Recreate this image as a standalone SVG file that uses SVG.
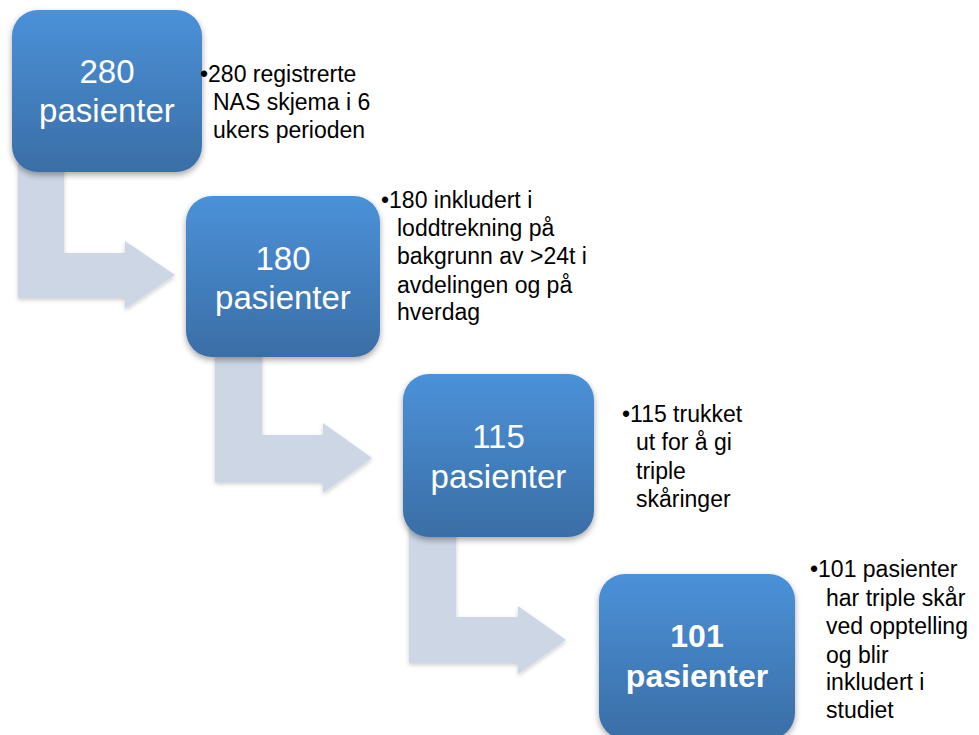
<svg xmlns="http://www.w3.org/2000/svg" width="979" height="735" viewBox="0 0 979 735">
<style>
.box{fill:url(#bg);filter:url(#sh)}
.arr{fill:#CDD6E5;filter:url(#ash)}
.bt{font-family:"Liberation Sans",Arial,sans-serif;font-size:33px;fill:#fff;text-anchor:middle}
.bb{font-weight:bold;font-size:32px}
.st{font-family:"Liberation Sans",Arial,sans-serif;font-size:23px;fill:#000}
</style>
<defs>
<linearGradient id="bg" x1="0" y1="0" x2="0" y2="1">
<stop offset="0" stop-color="#4B91D8"/>
<stop offset="1" stop-color="#3A6EA6"/>
</linearGradient>
<filter id="sh" x="-10%" y="-10%" width="120%" height="125%">
<feDropShadow dx="0" dy="3" stdDeviation="3" flood-color="#000" flood-opacity="0.35"/>
</filter>
<filter id="ash" x="-10%" y="-10%" width="120%" height="125%">
<feDropShadow dx="0" dy="2" stdDeviation="2" flood-color="#000" flood-opacity="0.2"/>
</filter>
</defs>
<g id="connectors">
<path class="arr" d="M18,150 L64,150 L64,253 L125,253 L125,241 L175,275 L125,309 L125,298 L18,298 Z"/>
<path class="arr" d="M215,340 L262,340 L262,435 L323,435 L323,423 L372,458 L323,493 L323,482 L215,482 Z"/>
<path class="arr" d="M409,520 L456,520 L456,617 L518,617 L518,606 L566,640 L518,674 L518,663 L409,663 Z"/>
</g>
<g id="node1">
<rect class="box" x="12" y="10" width="190" height="162" rx="26"/>
<text class="bt" x="107" y="83">280</text>
<text class="bt" x="107" y="122">pasienter</text>
</g>
<g id="note1">
<text class="st" x="200" y="82">•280 registrerte</text>
<text class="st" x="213" y="110">NAS skjema i 6</text>
<text class="st" x="213" y="138">ukers perioden</text>
</g>
<g id="node2">
<rect class="box" x="186" y="196" width="194" height="161" rx="26"/>
<text class="bt" x="283" y="270">180</text>
<text class="bt" x="283" y="309">pasienter</text>
</g>
<g id="note2">
<text class="st" x="381" y="208">•180 inkludert i</text>
<text class="st" x="397" y="236">loddtrekning på</text>
<text class="st" x="397" y="264">bakgrunn av &gt;24t i</text>
<text class="st" x="397" y="293">avdelingen og på</text>
<text class="st" x="397" y="320">hverdag</text>
</g>
<g id="node3">
<rect class="box" x="403" y="374" width="191" height="163" rx="26"/>
<text class="bt" x="498.5" y="448">115</text>
<text class="bt" x="498.5" y="488">pasienter</text>
</g>
<g id="note3">
<text class="st" x="622" y="422">•115 trukket</text>
<text class="st" x="636" y="450">ut for å gi</text>
<text class="st" x="636" y="479">triple</text>
<text class="st" x="636" y="507">skåringer</text>
</g>
<g id="node4">
<rect class="box" x="599" y="574" width="196" height="165" rx="26"/>
<text class="bt bb" x="697" y="647">101</text>
<text class="bt bb" x="697" y="687">pasienter</text>
</g>
<g id="note4">
<text class="st" x="810" y="577">•101 pasienter</text>
<text class="st" x="826" y="606">har triple skår</text>
<text class="st" x="826" y="634">ved opptelling</text>
<text class="st" x="826" y="663">og blir</text>
<text class="st" x="826" y="690">inkludert i</text>
<text class="st" x="826" y="718">studiet</text>
</g>
</svg>
